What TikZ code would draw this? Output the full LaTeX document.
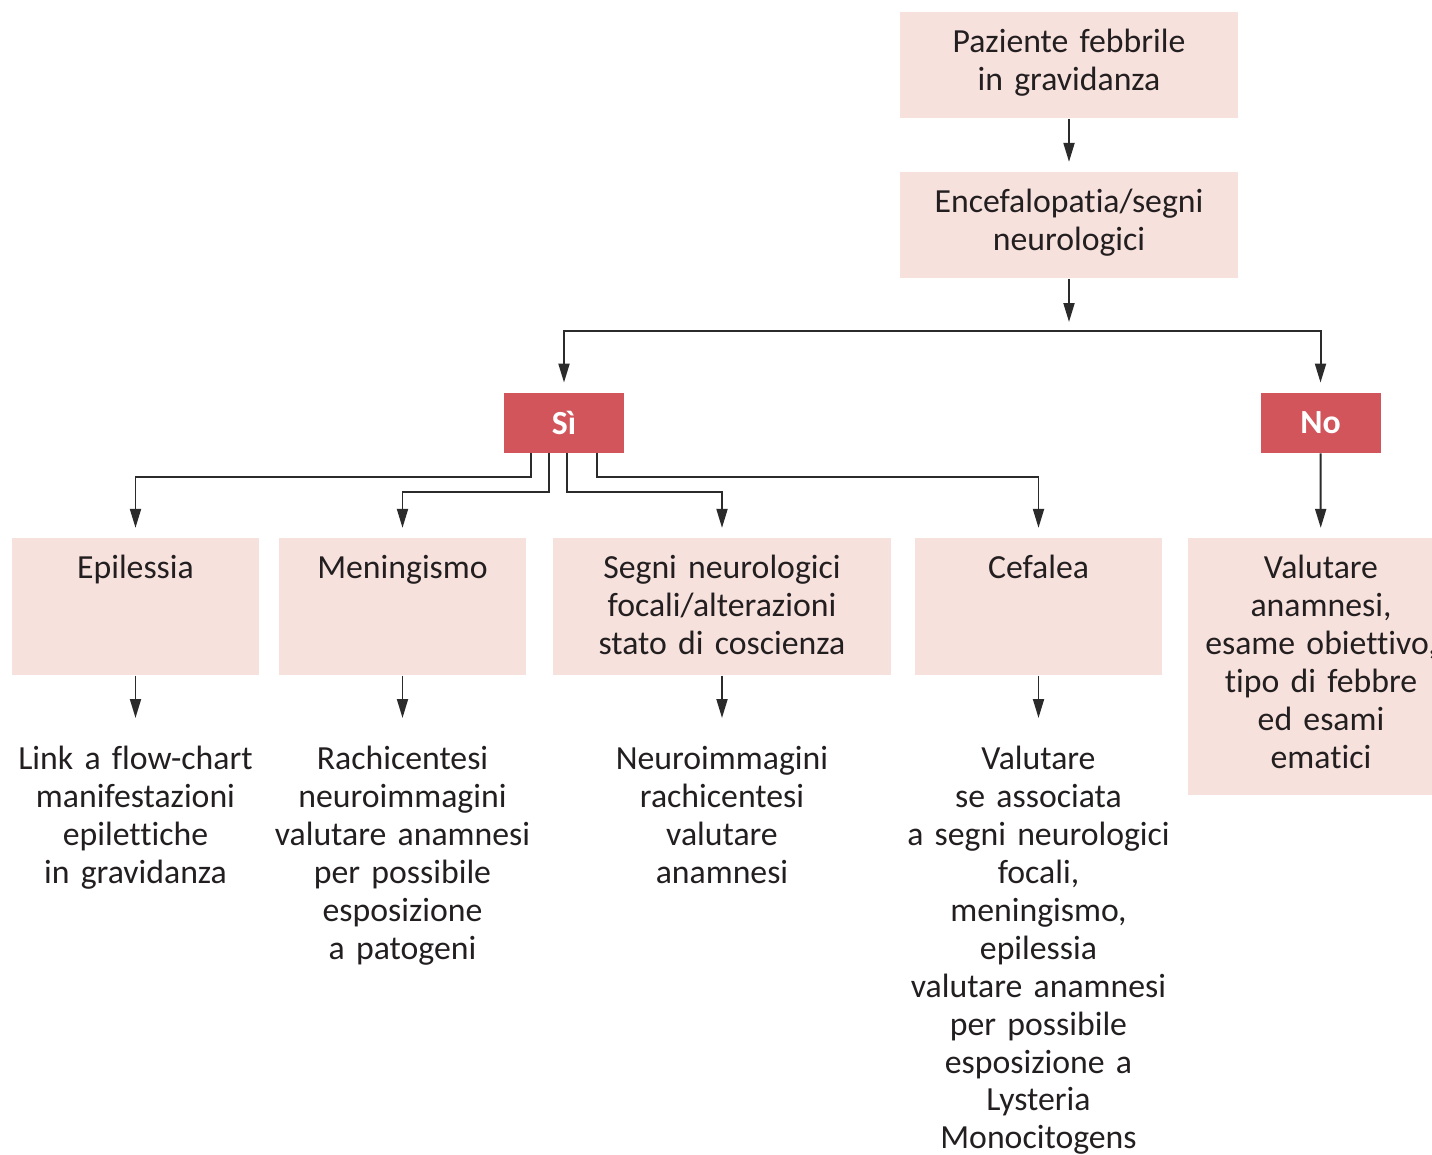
\documentclass[tikz,border=0pt]{standalone}
\usepackage{fontspec}
\setmainfont{Carlito}[Ligatures=NoCommon]
\usetikzlibrary{arrows.meta,positioning}
\definecolor{cPink}{HTML}{F7E1DD}
\definecolor{cRed}{HTML}{D1555B}
\definecolor{cInk}{HTML}{231F20}
\definecolor{cLine}{HTML}{2B2B2B}
\newlength{\pxu}\setlength{\pxu}{0.025cm}
\tikzset{
  txt/.style={text=cInk, align=center, inner sep=0pt,
    font=\fontsize{24}{27}\selectfont},
  box/.style={txt, fill=cPink},
  headbox/.style={box, text width=338\pxu, text height=36\pxu,
    text depth=62\pxu, inner ysep=4\pxu, anchor=north},
  choice/.style={fill=cRed, text=white, inner sep=0pt,
    font=\fontsize{24}{27}\selectfont\bfseries,
    minimum width=120\pxu, minimum height=60\pxu},
  item/.style={box, text width=247\pxu, text height=40\pxu,
    text depth=97\pxu, anchor=north},
  result/.style={txt, text width=300\pxu, text height=51\pxu, anchor=north},
  arr/.style={draw=cLine, line width=1.4pt,
    -{Triangle[length=13.5pt, width=7.8pt]}},
  gap/.style={shorten >=7.2pt},
}

\begin{document}
\begin{tikzpicture}[x=1\pxu, y=-1\pxu]
\useasboundingbox (0,0) rectangle (1432,1155);

% ============================================================ top
\node[headbox] (paz) at (1069,12) {Paziente febbrile\\in gravidanza};
\node[headbox] (enc) at (1069,172) {Encefalopatia/segni\\neurologici};
\coordinate (split) at (1069,331);

% ============================================================ yes / no
\node[choice] (si) at (564,423) {Sì};
\node[choice] (no) at (1320.5,423) {No};

% ============================================================ findings
\node[item] (epi) at (135.5,538) {Epilessia};
\node[item] (men) at (402.5,538) {Meningismo};
\node[item, text width=338\pxu] (foc) at (722,538)
  {Segni neurologici\\focali/alterazioni\\stato di coscienza};
\node[item] (cef) at (1038.5,538) {Cefalea};
\node[item, text width=266\pxu, text depth=217\pxu] (val) at (1321,538)
  {Valutare\\anamnesi,\\esame obiettivo,\\tipo di febbre\\ed esami\\ematici};

% ============================================================ what to do
\node[result] (rEpi) at (135.5,718)
  {Link a flow-chart\\manifestazioni\\epilettiche\\in gravidanza};
\node[result] (rMen) at (402.5,718)
  {Rachicentesi\\neuroimmagini\\valutare anamnesi\\per possibile\\esposizione\\a patogeni};
\node[result] (rFoc) at (722,718)
  {Neuroimmagini\\rachicentesi\\valutare\\anamnesi};
\node[result] (rCef) at (1038.5,718)
  {Valutare\\se associata\\a segni neurologici\\focali,\\meningismo,\\epilessia\\valutare anamnesi\\per possibile\\esposizione a\\Lysteria\\Monocitogens};

% ============================================================ connectors
\draw[arr, gap] (paz) -- (enc);
\draw[arr, shorten >=6.4pt] (enc) -- (split);
\draw[arr, gap] (split) -| (si);
\draw[arr, gap] (split) -| (no);
\draw[arr, gap] ([xshift=-33\pxu]si.south) -- ++(0,24) -| (epi.north);
\draw[arr, gap] ([xshift=-15\pxu]si.south) -- ++(0,39) -| (men.north);
\draw[arr, gap] ([xshift=3\pxu]si.south) -- ++(0,39) -| (foc.north);
\draw[arr, gap] ([xshift=33\pxu]si.south) -- ++(0,24) -| (cef.north);
\draw[arr, gap] (no) -- (val);
\foreach \b/\r in {epi/rEpi, men/rMen, foc/rFoc, cef/rCef}
  {\draw[arr] (\b.south) -- (\r.north);}
\end{tikzpicture}
\end{document}
